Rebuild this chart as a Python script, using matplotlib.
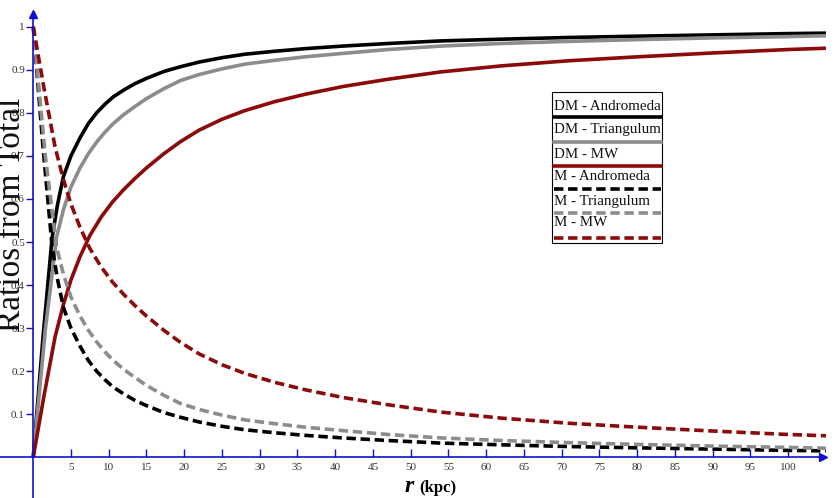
"""Dark matter / baryonic mass ratios vs radius."""

import matplotlib.pyplot as plt
from matplotlib.lines import Line2D
from matplotlib.patches import Rectangle

# values
r_and = [0, 1.3, 2.5, 3.2, 4.0, 5.0, 6.2, 7.3, 8.4, 9.5, 10.6, 12.0, 13.5, 15.0, 17.3,
         19.5, 22, 25, 28, 32, 36, 41, 47, 54, 62, 71, 80, 90, 100, 105]
dm_and = [0, 0.28, 0.51, 0.585, 0.652, 0.700, 0.742, 0.775, 0.800, 0.820, 0.837, 0.853,
          0.868, 0.880, 0.896, 0.907, 0.918, 0.928, 0.936, 0.943, 0.949, 0.955, 0.961,
          0.967, 0.971, 0.975, 0.978, 0.981, 0.984, 0.985]
m_and = [1, 0.72, 0.49, 0.415, 0.348, 0.300, 0.258, 0.225, 0.200, 0.180, 0.163, 0.147,
         0.132, 0.120, 0.104, 0.093, 0.082, 0.072, 0.064, 0.057, 0.051, 0.045, 0.039,
         0.033, 0.029, 0.025, 0.022, 0.019, 0.016, 0.015]

r_tri = [0, 1.6, 3.1, 4.0, 5.0, 6.2, 7.3, 8.4, 9.5, 10.6, 12.0, 13.5, 15.0, 17.3, 19.5,
         22, 25, 28, 32, 36, 41, 47, 54, 62, 71, 80, 90, 100, 105]
dm_tri = [0, 0.296, 0.512, 0.575, 0.628, 0.672, 0.705, 0.732, 0.755, 0.775, 0.796, 0.815,
          0.833, 0.856, 0.875, 0.889, 0.902, 0.913, 0.922, 0.930, 0.938, 0.947, 0.955,
          0.961, 0.966, 0.970, 0.974, 0.977, 0.979]
m_tri = [1, 0.70, 0.488, 0.425, 0.372, 0.328, 0.295, 0.268, 0.245, 0.225, 0.204, 0.185,
         0.167, 0.144, 0.125, 0.111, 0.098, 0.087, 0.078, 0.070, 0.062, 0.053, 0.045,
         0.039, 0.034, 0.030, 0.026, 0.023, 0.021]

r_mw = [0, 1.4, 2.9, 4.0, 5.0, 6.2, 7.5, 9.0, 10.5, 12.0, 13.5, 15.0, 17.3, 19.5, 22,
        25, 28, 32, 36, 41, 47, 54, 62, 71, 80, 90, 100, 105]
dm_mw = [0, 0.14, 0.28, 0.355, 0.412, 0.466, 0.515, 0.558, 0.593, 0.622, 0.648, 0.672,
         0.705, 0.733, 0.760, 0.785, 0.805, 0.826, 0.843, 0.861, 0.878, 0.895, 0.909,
         0.921, 0.930, 0.939, 0.947, 0.950]
m_mw = [1, 0.86, 0.72, 0.645, 0.588, 0.534, 0.485, 0.442, 0.407, 0.378, 0.352, 0.328,
        0.295, 0.267, 0.240, 0.215, 0.195, 0.174, 0.157, 0.139, 0.122, 0.105, 0.091,
        0.079, 0.070, 0.061, 0.053, 0.050]

x_ticks = list(range(5, 105, 5))
y_ticks = [0.1, 0.2, 0.3, 0.4, 0.5, 0.6, 0.7, 0.8, 0.9, 1.0]
y_tick_labels = ["0.1", "0.2", "0.3", "0.4", "0.5", "0.6", "0.7", "0.8", "0.9", "1"]

GRAY = "#8c8c8c"
RED = "#8b0a0a"
AXIS_BLUE = "#1010d0"
DASH = (0, (2.6, 1.3))

series = [
    ("DM - Andromeda", r_and, dm_and, "black", "-"),
    ("DM - Triangulum", r_tri, dm_tri, GRAY, "-"),
    ("DM - MW", r_mw, dm_mw, RED, "-"),
    ("M - Andromeda", r_and, m_and, "black", DASH),
    ("M - Triangulum", r_tri, m_tri, GRAY, DASH),
    ("M - MW", r_mw, m_mw, RED, DASH),
]

plt.rcParams["font.family"] = ["Liberation Serif", "DejaVu Serif"]

W, H = 838, 498
fig = plt.figure(figsize=(W / 100, H / 100), dpi=100)
ax = fig.add_axes([0, 0, 1, 1])

for label, r, v, color, ls in series:
    ax.plot(r, v, color=color, linestyle=ls, linewidth=2.6,
            dash_capstyle="butt", solid_capstyle="butt", label=label)

ax.set_xlim(-4.4, 106.6)
ax.set_ylim(-0.0945, 1.062)

# axis lines through the origin, with arrow heads
for side in ["top", "right"]:
    ax.spines[side].set_visible(False)
ax.spines["left"].set_position(("data", 0))
ax.spines["bottom"].set_position(("data", 0))
ax.spines["left"].set_color(AXIS_BLUE)
ax.spines["bottom"].set_color(AXIS_BLUE)
ax.spines["left"].set_linewidth(1.2)
ax.spines["bottom"].set_linewidth(1.2)
ax.spines["left"].set_bounds(-0.0945, 1.03)
ax.spines["bottom"].set_bounds(-4.4, 104.6)
ax.plot(0, 1.03, marker="^", color=AXIS_BLUE, markersize=6, clip_on=False)
ax.plot(104.6, 0, marker=">", color=AXIS_BLUE, markersize=6, clip_on=False)

ax.set_xticks(x_ticks)
ax.set_xticklabels([str(t) for t in x_ticks])
ax.set_yticks(y_ticks)
ax.set_yticklabels(y_tick_labels)
ax.tick_params(axis="x", direction="in", length=6, width=1, color=AXIS_BLUE,
               labelsize=8, labelcolor="#333333", pad=4)
ax.tick_params(axis="y", direction="out", length=5, width=1, color=AXIS_BLUE,
               labelsize=8, labelcolor="#333333", pad=1)

# axis titles
fig.text(12 / W, 1 - 215 / H, "Ratios from Total", rotation=90, fontsize=24,
         ha="center", va="center", color="#111111")
fig.text(405 / W, 1 - 492 / H, "r", fontsize=17, fontweight="bold",
         fontstyle="italic", ha="left", va="baseline")
fig.text(419 / W, 1 - 492 / H, "(kpc)", fontsize=12, fontweight="bold",
         ha="left", va="baseline")

# legend box: label above its line sample
left, right, top, bottom = 552, 662, 92, 243
fig.add_artist(Rectangle((left / W, 1 - bottom / H), (right - left) / W, (bottom - top) / H,
                         transform=fig.transFigure, fill=False, edgecolor="black",
                         linewidth=0.8))
text_y = [106.5, 130, 155, 177, 201, 222]
line_y = [117.3, 141.7, 165.5, 189, 213.3, 238.5]
for (label, r, v, color, ls), ty, ly in zip(series, text_y, line_y):
    fig.text(553.5 / W, 1 - ty / H, label, fontsize=10.8, ha="left", va="center",
             color="#111111")
    fig.add_artist(Line2D([553.5 / W, 660.5 / W], [1 - ly / H, 1 - ly / H],
                          transform=fig.transFigure, color=color, linestyle=ls,
                          linewidth=2.6, dash_capstyle="butt"))

fig.savefig("out.png", dpi=100)
